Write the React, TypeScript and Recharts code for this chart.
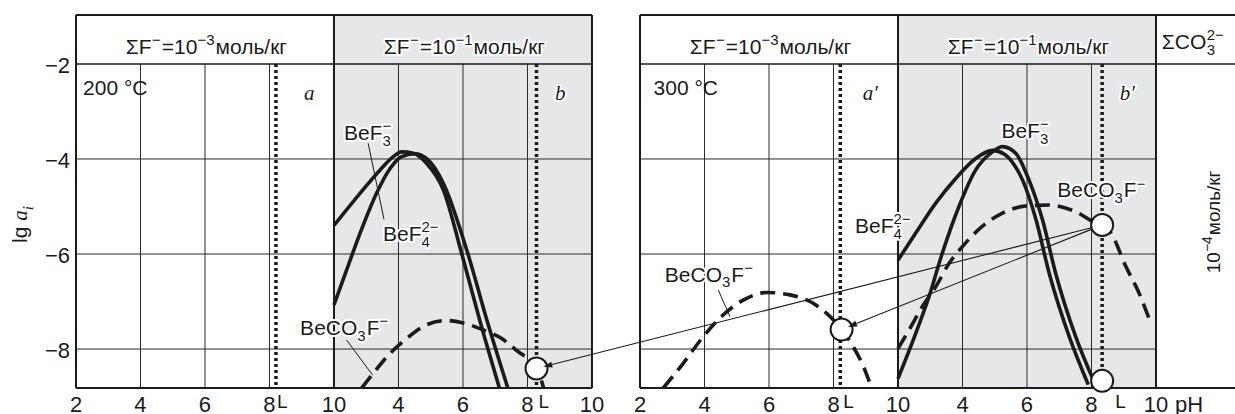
import React from 'react';
import {
  ComposedChart,
  Line,
  XAxis,
  YAxis,
  ReferenceLine,
  ReferenceArea,
  ReferenceDot,
} from 'recharts';

const INK = '#1b1b1b';
const SHADE = '#e6e7e8';
const FONT = '"Liberation Sans", Arial, Helvetica, sans-serif';
const SERIF = '"Liberation Serif", "Times New Roman", serif';

// one composite x axis: four sub-panels, each running pH 2..10 (8 units)
const SUB = 8;
const RIGHT = 17.49;
const X_MAX = 35.94;
const Y_MIN = -8.82;
const Y_HEAD = -2;
const Y_TOP = -0.97;
const panelStart = [0, SUB, RIGHT, RIGHT + SUB];
const X = (panel: number, ph: number) => panelStart[panel] + ph - 2;

const phTicks = ['2', '4', '6', '8', '10', '4', '6', '8', '10'];
const yTicks = [-2, -4, -6, -8];
const gridPh = [4, 6, 8];
const gridLg = [-4, -6, -8];

// lg a_i vs pH: [pH, lg a]
// 200 °C, ΣF = 1e-1
const beF3_200 = [[2.0, -5.4], [2.91, -4.64], [3.43, -4.23], [3.84, -3.95], [4.1, -3.85], [4.46, -3.88], [4.87, -4.09], [5.39, -4.65], [5.96, -5.99], [6.53, -7.42], [7.13, -8.82]];
const beF4_200 = [[2.0, -7.07], [2.39, -6.34], [2.81, -5.56], [3.32, -4.72], [3.74, -4.2], [4.1, -3.95], [4.51, -3.89], [4.87, -3.99], [5.39, -4.51], [6.15, -5.99], [6.74, -7.39], [7.39, -8.82]];
const beCO3F_200 = [[2.86, -8.82], [3.22, -8.51], [3.74, -8.09], [4.25, -7.78], [4.87, -7.49], [5.49, -7.4], [6.01, -7.45], [6.63, -7.6], [7.2, -7.78], [7.7, -8.05], [8.29, -8.4], [8.5, -8.82]];
// 300 °C, ΣF = 1e-3
const beCO3F_300a = [[2.72, -8.82], [3.34, -8.3], [3.96, -7.74], [4.58, -7.28], [5.2, -6.97], [5.93, -6.81], [6.65, -6.86], [7.27, -7.0], [7.79, -7.25], [8.25, -7.59], [8.61, -7.95], [8.93, -8.37], [9.18, -8.82]];
// 300 °C, ΣF = 1e-1
const beF4_300 = [[2.0, -6.13], [2.55, -5.56], [3.17, -4.93], [3.79, -4.41], [4.41, -3.99], [4.93, -3.82], [5.3, -3.9], [5.6, -4.12], [5.86, -4.44], [6.28, -5.28], [6.69, -6.41], [7.31, -7.74], [7.9, -8.75]];
const beF3_300 = [[2.0, -8.62], [2.55, -7.67], [2.96, -6.9], [3.37, -5.99], [3.89, -5.0], [4.41, -4.23], [4.93, -3.85], [5.24, -3.74], [5.65, -3.88], [6.06, -4.44], [6.48, -5.28], [6.89, -6.41], [7.51, -7.74], [8.08, -8.69]];
const beCO3F_300b = [[2.0, -7.99], [2.34, -7.6], [2.75, -7.11], [3.17, -6.69], [3.58, -6.2], [3.99, -5.85], [4.61, -5.42], [5.24, -5.14], [5.96, -4.99], [6.68, -4.97], [7.51, -5.11], [8.13, -5.35], [8.33, -5.41], [8.6, -5.56], [9.07, -6.27], [9.48, -6.83], [9.84, -7.46]];

const series = [
  { key: 'bef3-200', panel: 1, pts: beF3_200, dashed: false },
  { key: 'bef4-200', panel: 1, pts: beF4_200, dashed: false },
  { key: 'beco3f-200', panel: 1, pts: beCO3F_200, dashed: true },
  { key: 'beco3f-300a', panel: 2, pts: beCO3F_300a, dashed: true },
  { key: 'bef4-300', panel: 3, pts: beF4_300, dashed: false },
  { key: 'bef3-300', panel: 3, pts: beF3_300, dashed: false },
  { key: 'beco3f-300b', panel: 3, pts: beCO3F_300b, dashed: true },
];

// dotted "L" lines (pH of the fluid), and the marked points
const lLines = [
  { panel: 0, ph: 8.2, dx: 1 },
  { panel: 1, ph: 8.28, dx: 2 },
  { panel: 2, ph: 8.21, dx: 3 },
  { panel: 3, ph: 8.33, dx: 13 },
];
const marks = [
  { panel: 1, ph: 8.28, lg: -8.41 },
  { panel: 2, ph: 8.25, lg: -7.59 },
  { panel: 3, ph: 8.33, lg: -5.39 },
  { panel: 3, ph: 8.33, lg: -8.67 },
];
const arrows = [
  [2, 0],
  [2, 1],
];

type Tok = { t?: string; sub?: string; sup?: string; it?: boolean };
const F3: Tok[] = [{ t: 'BeF' }, { sub: '3', sup: '−' }];
const F4: Tok[] = [{ t: 'BeF' }, { sub: '4', sup: '2−' }];
const CO3F: Tok[] = [{ t: 'BeCO' }, { sub: '3' }, { t: 'F' }, { sup: '−' }];
const head = (p: string): Tok[] => [{ t: 'ΣF' }, { sup: '−' }, { t: '=10' }, { sup: p }, { t: 'моль/кг' }];

const notes: { x: number; y: number; toks: Tok[]; anchor?: string; halo?: boolean; rot?: boolean; fs?: number }[] = [
  { x: X(0, 6), y: -1.79, toks: head('−3'), anchor: 'middle' },
  { x: X(1, 6), y: -1.79, toks: head('−1'), anchor: 'middle', halo: true },
  { x: X(2, 6), y: -1.79, toks: head('−3'), anchor: 'middle' },
  { x: X(3, 6), y: -1.79, toks: head('−1'), anchor: 'middle', halo: true },
  { x: 33.67, y: -1.68, toks: [{ t: 'ΣCO' }, { sub: '3', sup: '2−' }] },
  { x: 35.47, y: -5.35, toks: [{ t: '10' }, { sup: '−4' }, { t: 'моль/кг' }], anchor: 'middle', rot: true, fs: 19 },
  { x: -1.52, y: -5.37, toks: [{ t: 'lg ' }, { t: 'a', it: true }, { sub: 'i', it: true }], anchor: 'middle', rot: true },
  { x: 0.22, y: -2.65, toks: [{ t: '200 °C' }] },
  { x: 17.91, y: -2.65, toks: [{ t: '300 °C' }] },
  { x: 7.07, y: -2.76, toks: [{ t: 'a', it: true }] },
  { x: 14.85, y: -2.76, toks: [{ t: 'b', it: true }], halo: true },
  { x: 24.4, y: -2.76, toks: [{ t: 'a′', it: true }] },
  { x: 32.37, y: -2.76, toks: [{ t: 'b′', it: true }], halo: true },
  { x: 8.31, y: -3.6, toks: F3, halo: true },
  { x: 9.52, y: -5.73, toks: F4, halo: true },
  { x: 6.95, y: -7.71, toks: CO3F, halo: true },
  { x: 18.26, y: -6.58, toks: CO3F, halo: true },
  { x: 24.16, y: -5.56, toks: F4, halo: true },
  { x: 28.7, y: -3.56, toks: F3, halo: true },
  { x: 30.43, y: -4.81, toks: CO3F, halo: true },
];
const leaders = [
  [[9.06, -3.67], [9.55, -5.27]],
  [[8.39, -7.81], [9.2, -8.55]],
  [[19.92, -6.76], [20.28, -7.32]],
];

const CW: Record<string, number> = {
  B: 0.667, e: 0.556, F: 0.611, C: 0.722, O: 0.778, 'Σ': 0.64, '=': 0.584, '−': 0.584,
  ' ': 0.278, '°': 0.4, '/': 0.278, 'м': 0.573, 'о': 0.556, 'л': 0.542, 'ь': 0.52, 'к': 0.438, 'г': 0.365,
  l: 0.222, g: 0.556, a: 0.5, b: 0.5, i: 0.278, '′': 0.3,
};
const textW = (s: string, fs: number) => [...s].reduce((a, c) => a + (CW[c] ?? 0.556), 0) * fs;

function Chem({ px, py, toks, anchor, halo, rot, fs = 21 }: any) {
  const sfs = Math.round(fs * 0.72);
  let cx = 0;
  const els: React.ReactNode[] = [];
  toks.forEach((k: Tok, i: number) => {
    const fam = k.it ? SERIF : FONT;
    const st = k.it ? 'italic' : 'normal';
    if (k.t) {
      els.push(<text key={i} x={cx} y={0} fontSize={fs} fontFamily={fam} fontStyle={st}>{k.t}</text>);
      cx += textW(k.t, fs);
    } else {
      const ws = k.sub ? textW(k.sub, sfs) : 0;
      const wp = k.sup ? textW(k.sup, sfs) : 0;
      if (k.sub) els.push(<text key={i + 's'} x={cx} y={fs * 0.28} fontSize={sfs} fontFamily={fam} fontStyle={st}>{k.sub}</text>);
      if (k.sup) els.push(<text key={i + 'p'} x={cx} y={-fs * 0.42} fontSize={sfs} fontFamily={fam} fontStyle={st}>{k.sup}</text>);
      cx += Math.max(ws, wp) + 1;
    }
  });
  const off = anchor === 'middle' ? -cx / 2 : 0;
  return (
    <g transform={`translate(${px},${py})${rot ? ' rotate(-90)' : ''}`}>
      <g
        transform={`translate(${off},0)`}
        fill={INK}
        stroke={halo ? '#fff' : 'none'}
        strokeWidth={halo ? 4 : 0}
        strokeLinejoin="round"
        style={{ paintOrder: 'stroke' }}
      >
        {els}
      </g>
    </g>
  );
}

const seg = (x1: number, y1: number, x2: number, y2: number) => [
  { x: x1, y: y1 },
  { x: x2, y: y2 },
];

const frame: { s: any; w: number }[] = [];
// left panel
[X(0, 2), X(1, 2), X(1, 10)].forEach((x) => frame.push({ s: seg(x, Y_MIN, x, Y_TOP), w: 2 }));
[Y_TOP, Y_HEAD, Y_MIN].forEach((y) => frame.push({ s: seg(X(0, 2), y, X(1, 10), y), w: y === Y_HEAD ? 1.6 : 2 }));
// right panel + carbonate column
[X(2, 2), X(3, 2), X(3, 10)].forEach((x) => frame.push({ s: seg(x, Y_MIN, x, Y_TOP), w: 2 }));
[Y_TOP, Y_HEAD, Y_MIN].forEach((y) => frame.push({ s: seg(X(2, 2), y, X_MAX, y), w: y === Y_HEAD ? 1.6 : 2 }));

const grid: any[] = [];
[0, 1, 2, 3].forEach((p) => {
  gridPh.forEach((ph) => grid.push(seg(X(p, ph), Y_MIN, X(p, ph), Y_HEAD)));
  gridLg.forEach((lg) => grid.push(seg(X(p, 2), lg, X(p, 10), lg)));
});

const xTicks = [0, RIGHT].flatMap((s) => phTicks.map((_, i) => s + i * 2));
const lastTick = xTicks[xTicks.length - 1];
const tickLabel = (v: number) => {
  const s = v < RIGHT - 0.5 ? 0 : RIGHT;
  return phTicks[Math.round((v - s) / 2)];
};

const XTick = (p: any) => {
  const v = p.payload.value;
  return (
    <g fontFamily={FONT} fontSize={22} fill={INK}>
      <text x={p.x} y={p.y + 23.5} textAnchor="middle">{tickLabel(v)}</text>
      {Math.abs(v - lastTick) < 1e-6 && <text x={p.x + 19} y={p.y + 23.5}>pH</text>}
    </g>
  );
};

const YTick = (p: any) => (
  <text x={p.x} y={p.y + 9} textAnchor="end" fontFamily={FONT} fontSize={22} fill={INK}>
    {'−' + Math.abs(p.payload.value)}
  </text>
);

const DottedL = (dx: number) => (p: any) => {
  const yb = Math.max(p.y1, p.y2);
  return (
    <g>
      <line x1={p.x1} y1={p.y1} x2={p.x2} y2={p.y2} stroke={INK} strokeWidth={3.5} strokeDasharray="3 3" />
      <text x={p.x1 + dx} y={yb + 20} fontFamily={FONT} fontSize={19} fill={INK}>L</text>
    </g>
  );
};

const Arrow = (p: any) => {
  const { x1, y1, x2, y2 } = p;
  const L = Math.hypot(x2 - x1, y2 - y1) || 1;
  const ux = (x2 - x1) / L;
  const uy = (y2 - y1) / L;
  const sx = x1 + ux * 11;
  const sy = y1 + uy * 11;
  const tx = x2 - ux * 7;
  const ty = y2 - uy * 7;
  const bx = tx - ux * 9;
  const by = ty - uy * 9;
  const pts = `${tx},${ty} ${bx - uy * 3},${by + ux * 3} ${bx + uy * 3},${by - ux * 3}`;
  return (
    <g>
      <line x1={sx} y1={sy} x2={bx} y2={by} stroke={INK} strokeWidth={1.1} />
      <polygon points={pts} fill={INK} />
    </g>
  );
};

export default function App() {
  return (
    <div style={{ position: 'absolute', left: 0, top: 0, background: '#fff' }}>
      <ComposedChart width={1235} height={414} margin={{ top: 15, right: 0, left: 0, bottom: 0 }}>
        <XAxis
          dataKey="x"
          type="number"
          domain={[0, X_MAX]}
          allowDataOverflow
          ticks={xTicks}
          interval={0}
          axisLine={false}
          tickLine={false}
          tickSize={0}
          tickMargin={0}
          height={26}
          tick={XTick}
        />
        <YAxis
          type="number"
          domain={[Y_MIN, Y_TOP]}
          allowDataOverflow
          ticks={yTicks}
          interval={0}
          axisLine={false}
          tickLine={false}
          tickSize={0}
          tickMargin={6}
          width={76}
          tick={YTick}
        />

        {[1, 3].map((p) => (
          <ReferenceArea
            key={'sh' + p}
            x1={X(p, 2)}
            x2={X(p, 10)}
            y1={Y_MIN}
            y2={Y_TOP}
            fill={SHADE}
            fillOpacity={1}
            stroke="none"
            ifOverflow="visible"
            zIndex={100}
          />
        ))}
        {grid.map((s, i) => (
          <ReferenceLine key={'g' + i} segment={s} stroke="#2a2a2a" strokeWidth={1} ifOverflow="visible" zIndex={150} />
        ))}
        {frame.map((f, i) => (
          <ReferenceLine key={'f' + i} segment={f.s} stroke={INK} strokeWidth={f.w} ifOverflow="visible" zIndex={160} />
        ))}
        {leaders.map(([a, b], i) => (
          <ReferenceLine key={'ld' + i} segment={seg(a[0], a[1], b[0], b[1])} stroke={INK} strokeWidth={1} ifOverflow="visible" zIndex={170} />
        ))}

        {series.map((s) => (
          <Line
            key={s.key}
            data={s.pts.map(([ph, lg]) => ({ x: X(s.panel, ph), y: lg }))}
            dataKey="y"
            type="monotone"
            stroke={INK}
            strokeWidth={3.6}
            strokeDasharray={s.dashed ? '15 8' : undefined}
            dot={false}
            activeDot={false}
            isAnimationActive={false}
            zIndex={400}
          />
        ))}

        {lLines.map((l, i) => (
          <ReferenceLine
            key={'l' + i}
            segment={seg(X(l.panel, l.ph), Y_HEAD, X(l.panel, l.ph), Y_MIN)}
            shape={DottedL(l.dx)}
            ifOverflow="visible"
            zIndex={450}
          />
        ))}
        {marks.map((m, i) => (
          <ReferenceDot
            key={'m' + i}
            x={X(m.panel, m.ph)}
            y={m.lg}
            r={11}
            fill="#fff"
            stroke={INK}
            strokeWidth={2}
            ifOverflow="visible"
            zIndex={500}
          />
        ))}
        {arrows.map(([a, b], i) => (
          <ReferenceLine
            key={'ar' + i}
            segment={seg(X(marks[a].panel, marks[a].ph), marks[a].lg, X(marks[b].panel, marks[b].ph), marks[b].lg)}
            shape={Arrow}
            ifOverflow="visible"
            zIndex={550}
          />
        ))}
        {notes.map((n, i) => (
          <ReferenceDot
            key={'n' + i}
            x={n.x}
            y={n.y}
            r={0}
            ifOverflow="visible"
            zIndex={600}
            shape={(p: any) => <Chem {...n} px={p.cx} py={p.cy} />}
          />
        ))}
      </ComposedChart>
    </div>
  );
}
